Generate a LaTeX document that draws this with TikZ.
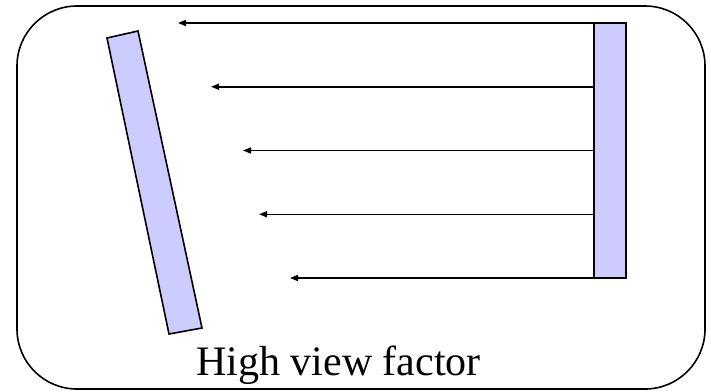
\documentclass[tikz,border=0pt]{standalone}
\usepackage{fontspec}
\setmainfont{Liberation Serif}
\usetikzlibrary{arrows.meta}
\definecolor{plate}{HTML}{CCCCFF}
\begin{document}
\begin{tikzpicture}[x=1pt,y=-1pt,
  platestyle/.style={draw=black,fill=plate,line width=1.6pt},
  ray/.style={line width=1.5pt,-{Triangle[length=8pt,width=6pt]}},
  frame/.style={draw=black,line width=1.6pt,rounded corners=60pt}]
\useasboundingbox (0,0) rectangle (711,391);
\draw[frame] (17,6) rectangle (705,389);
% emitting plate
\node[platestyle,inner sep=0pt,outer sep=0pt,minimum width=32pt,minimum height=255pt,anchor=north west] (emit) at (594,23) {};
% tilted receiving plate
\draw[platestyle] (107,38) -- (138,31) -- (202,328) -- (169,334) -- cycle;
\coordinate (t1) at (178,23);
\coordinate (t2) at (211,86.75);
\coordinate (t3) at (243,150.5);
\coordinate (t4) at (259,214.25);
\coordinate (t5) at (290,278);
\draw[ray] (t1 -| emit.west) -- (t1);
\draw[ray] (t2 -| emit.west) -- (t2);
\draw[ray] (t3 -| emit.west) -- (t3);
\draw[ray] (t4 -| emit.west) -- (t4);
\draw[ray] (t5 -| emit.west) -- (t5);
\node[anchor=base,font=\fontsize{42}{48}\selectfont,inner sep=0pt] (label) at (338.5,375) {High view factor};
\end{tikzpicture}
\end{document}
